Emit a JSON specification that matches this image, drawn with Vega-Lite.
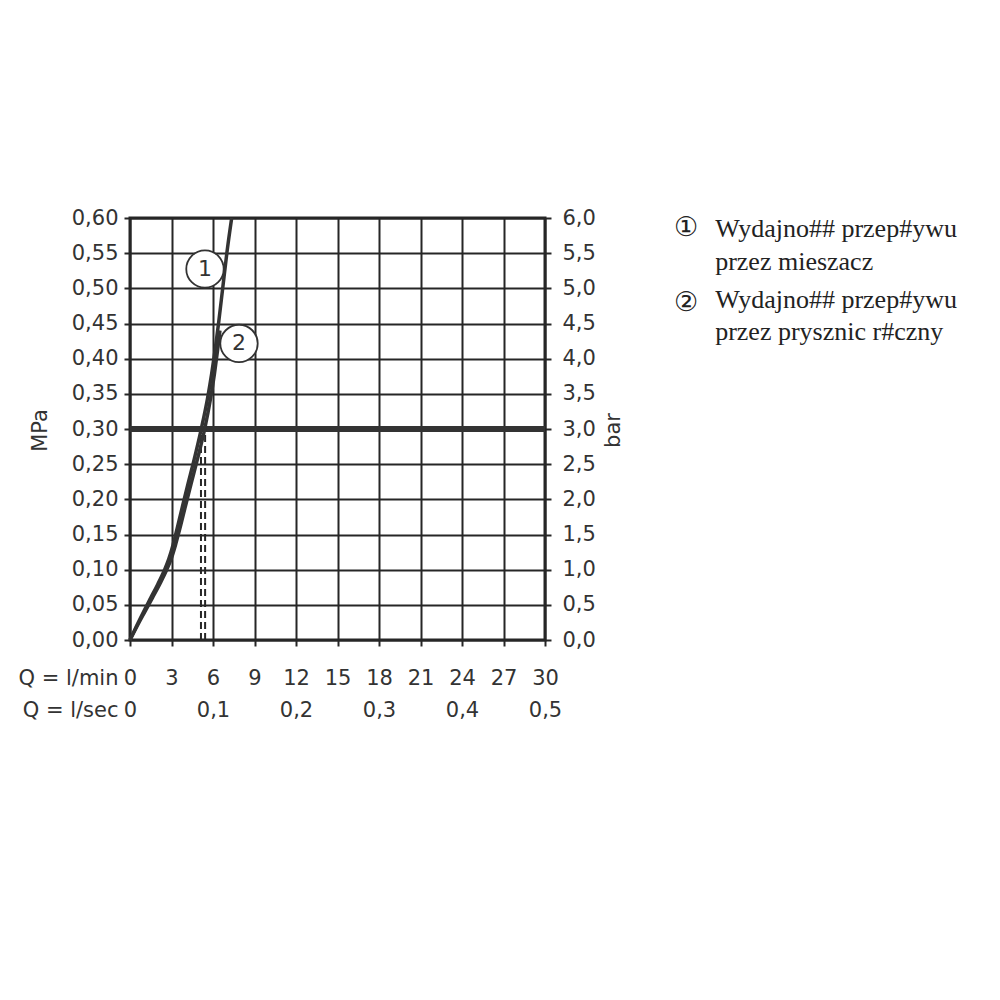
{
  "$schema": "https://vega.github.io/schema/vega-lite/v6.json",
  "width": 415,
  "height": 422,
  "autosize": {"type": "none"},
  "padding": {"left": 130, "top": 218, "right": 455, "bottom": 360},
  "background": "white",
  "config": {
    "view": {"stroke": "#262626", "strokeWidth": 3},
    "axis": {
      "labelFont": "DejaVu Sans",
      "labelFontSize": 21,
      "labelColor": "#333333",
      "titleFont": "DejaVu Sans",
      "titleFontSize": 21,
      "titleFontWeight": "normal",
      "titleColor": "#333333",
      "tickColor": "#262626",
      "tickWidth": 2,
      "tickSize": 6,
      "gridColor": "#262626",
      "gridWidth": 2,
      "gridOpacity": 1,
      "domain": false
    }
  },
  "datasets": {
    "curves": [
      {"series": "1", "Q": 0, "p": 0},
      {"series": "1", "Q": 0.5, "p": 0.021},
      {"series": "1", "Q": 1.0, "p": 0.041},
      {"series": "1", "Q": 1.5, "p": 0.06},
      {"series": "1", "Q": 2.0, "p": 0.079},
      {"series": "1", "Q": 2.5, "p": 0.1},
      {"series": "1", "Q": 2.8, "p": 0.115},
      {"series": "1", "Q": 3.1, "p": 0.1345},
      {"series": "1", "Q": 3.4, "p": 0.158},
      {"series": "1", "Q": 3.8, "p": 0.1905},
      {"series": "1", "Q": 4.2, "p": 0.2225},
      {"series": "1", "Q": 4.6, "p": 0.2537},
      {"series": "1", "Q": 5.15, "p": 0.3},
      {"series": "1", "Q": 5.6, "p": 0.343},
      {"series": "1", "Q": 5.9, "p": 0.378},
      {"series": "1", "Q": 6.15, "p": 0.412},
      {"series": "1", "Q": 6.4, "p": 0.45},
      {"series": "1", "Q": 6.7, "p": 0.5},
      {"series": "1", "Q": 7.0, "p": 0.55},
      {"series": "1", "Q": 7.35, "p": 0.6},
      {"series": "2", "Q": 0, "p": 0},
      {"series": "2", "Q": 0.55, "p": 0.021},
      {"series": "2", "Q": 1.1, "p": 0.041},
      {"series": "2", "Q": 1.62, "p": 0.06},
      {"series": "2", "Q": 2.14, "p": 0.079},
      {"series": "2", "Q": 2.66, "p": 0.1},
      {"series": "2", "Q": 2.97, "p": 0.115},
      {"series": "2", "Q": 3.28, "p": 0.1345},
      {"series": "2", "Q": 3.6, "p": 0.158},
      {"series": "2", "Q": 4.01, "p": 0.1905},
      {"series": "2", "Q": 4.42, "p": 0.2225},
      {"series": "2", "Q": 4.83, "p": 0.2537},
      {"series": "2", "Q": 5.4, "p": 0.3},
      {"series": "2", "Q": 5.82, "p": 0.343},
      {"series": "2", "Q": 6.1, "p": 0.378},
      {"series": "2", "Q": 6.33, "p": 0.412},
      {"series": "2", "Q": 6.5, "p": 0.44}
    ],
    "dashes": [
      {"Q": 5.13, "p": 0, "p2": 0.3},
      {"Q": 5.43, "p": 0, "p2": 0.3}
    ],
    "badges": [
      {"Q": 5.42, "p": 0.5275, "label": "1"},
      {"Q": 7.88, "p": 0.4216, "label": "2"}
    ],
    "legendMarks": [
      {"Q": 40.2, "p": 0.5863, "label": "①"},
      {"Q": 40.2, "p": 0.4792, "label": "②"}
    ],
    "legendText": [
      {"Q": 42.3, "p": 0.5734, "label": "Wydajno## przep#ywu"},
      {"Q": 42.3, "p": 0.5261, "label": "przez mieszacz"},
      {"Q": 42.3, "p": 0.472, "label": "Wydajno## przep#ywu"},
      {"Q": 42.3, "p": 0.4265, "label": "przez prysznic r#czny"}
    ],
    "ref": [{"p": 0.3}],
    "frame": [{"Q": 0, "p": 0}, {"Q": 30, "p": 0.6}]
  },
  "layer": [
    {
      "data": {"name": "frame"},
      "mark": {"type": "point", "opacity": 0},
      "encoding": {
        "x": {
          "field": "Q", "type": "quantitative",
          "scale": {"domain": [0, 30], "nice": false, "zero": false},
          "axis": {
            "orient": "bottom",
            "values": [0, 3, 6, 9, 12, 15, 18, 21, 24, 27, 30],
            "labelBaseline": "middle",
            "labelPadding": 32,
            "labelFlush": false,
            "labelOverlap": false,
            "title": "Q = l/min",
            "titleX": -12,
            "titleY": 38,
            "titleAlign": "right",
            "titleBaseline": "middle",
            "grid": true
          }
        },
        "y": {
          "field": "p", "type": "quantitative",
          "scale": {"domain": [0, 0.6], "nice": false, "zero": false},
          "axis": {
            "orient": "left",
            "values": [0, 0.05, 0.1, 0.15, 0.2, 0.25, 0.3, 0.35, 0.4, 0.45, 0.5, 0.55, 0.6],
            "labelExpr": "replace(format(datum.value, '.2f'), '.', ',')",
            "labelPadding": 6,
            "labelFlush": false,
            "labelOverlap": false,
            "title": "MPa",
            "titleAngle": 270,
            "titleX": -90,
            "titleY": 212,
            "titleAlign": "center",
            "titleBaseline": "middle",
            "grid": true
          }
        }
      }
    },
    {
      "data": {"name": "frame"},
      "mark": {"type": "point", "opacity": 0},
      "encoding": {
        "x": {
          "field": "Q", "type": "quantitative",
          "scale": {"domain": [0, 30], "nice": false, "zero": false},
          "axis": {
            "orient": "bottom",
            "values": [0, 6, 12, 18, 24, 30],
            "labelExpr": "datum.value == 0 ? '0' : replace(format(datum.value / 60, '.1f'), '.', ',')",
            "ticks": false,
            "grid": false,
            "labelBaseline": "middle",
            "labelPadding": 70,
            "labelFlush": false,
            "labelOverlap": false,
            "title": "Q = l/sec",
            "titleX": -12,
            "titleY": 70,
            "titleAlign": "right",
            "titleBaseline": "middle"
          }
        },
        "y": {
          "field": "p", "type": "quantitative",
          "scale": {"domain": [0, 0.6], "nice": false, "zero": false},
          "axis": {
            "orient": "right",
            "values": [0, 0.05, 0.1, 0.15, 0.2, 0.25, 0.3, 0.35, 0.4, 0.45, 0.5, 0.55, 0.6],
            "labelExpr": "replace(format(datum.value * 10, '.1f'), '.', ',')",
            "labelPadding": 11,
            "labelFlush": false,
            "labelOverlap": false,
            "grid": false,
            "title": "bar",
            "titleAngle": 270,
            "titleX": 68,
            "titleY": 212,
            "titleAlign": "center",
            "titleBaseline": "middle"
          }
        }
      }
    },
    {
      "layer": [
        {
          "data": {"name": "ref"},
          "mark": {"type": "rule", "color": "#333333", "strokeWidth": 6},
          "encoding": {"y": {"field": "p", "type": "quantitative", "axis": null, "scale": {"domain": [0, 0.6], "nice": false, "zero": false}}}
        },
        {
          "data": {"name": "dashes"},
          "mark": {"type": "rule", "color": "#262626", "strokeWidth": 2, "strokeDash": [7, 4]},
          "encoding": {
            "x": {"field": "Q", "type": "quantitative", "axis": null, "scale": {"domain": [0, 30], "nice": false, "zero": false}},
            "y": {"field": "p", "type": "quantitative", "axis": null},
            "y2": {"field": "p2"}
          }
        },
        {
          "data": {"name": "curves"},
          "mark": {"type": "line", "color": "#333333", "strokeWidth": 3.5, "interpolate": "monotone"},
          "encoding": {
            "x": {"field": "Q", "type": "quantitative", "axis": null},
            "y": {"field": "p", "type": "quantitative", "axis": null},
            "detail": {"field": "series"}
          }
        },
        {
          "data": {"name": "badges"},
          "mark": {"type": "point", "shape": "circle", "size": 1400, "filled": true, "fill": "white", "stroke": "#333333", "strokeWidth": 1.8, "opacity": 1},
          "encoding": {
            "x": {"field": "Q", "type": "quantitative", "axis": null},
            "y": {"field": "p", "type": "quantitative", "axis": null}
          }
        },
        {
          "data": {"name": "badges"},
          "mark": {"type": "text", "font": "DejaVu Sans", "fontSize": 22, "color": "#333333", "align": "center", "baseline": "middle"},
          "encoding": {
            "x": {"field": "Q", "type": "quantitative", "axis": null},
            "y": {"field": "p", "type": "quantitative", "axis": null},
            "text": {"field": "label"}
          }
        },
        {
          "data": {"name": "legendMarks"},
          "mark": {"type": "text", "font": "DejaVu Sans", "fontSize": 27, "color": "#222222", "align": "center", "baseline": "middle"},
          "encoding": {
            "x": {"field": "Q", "type": "quantitative", "axis": null},
            "y": {"field": "p", "type": "quantitative", "axis": null},
            "text": {"field": "label"}
          }
        },
        {
          "data": {"name": "legendText"},
          "mark": {"type": "text", "font": "Liberation Serif", "fontSize": 26, "color": "#222222", "align": "left", "baseline": "alphabetic"},
          "encoding": {
            "x": {"field": "Q", "type": "quantitative", "axis": null},
            "y": {"field": "p", "type": "quantitative", "axis": null},
            "text": {"field": "label"}
          }
        }
      ]
    }
  ],
  "resolve": {"scale": {"x": "independent", "y": "independent"}}
}
